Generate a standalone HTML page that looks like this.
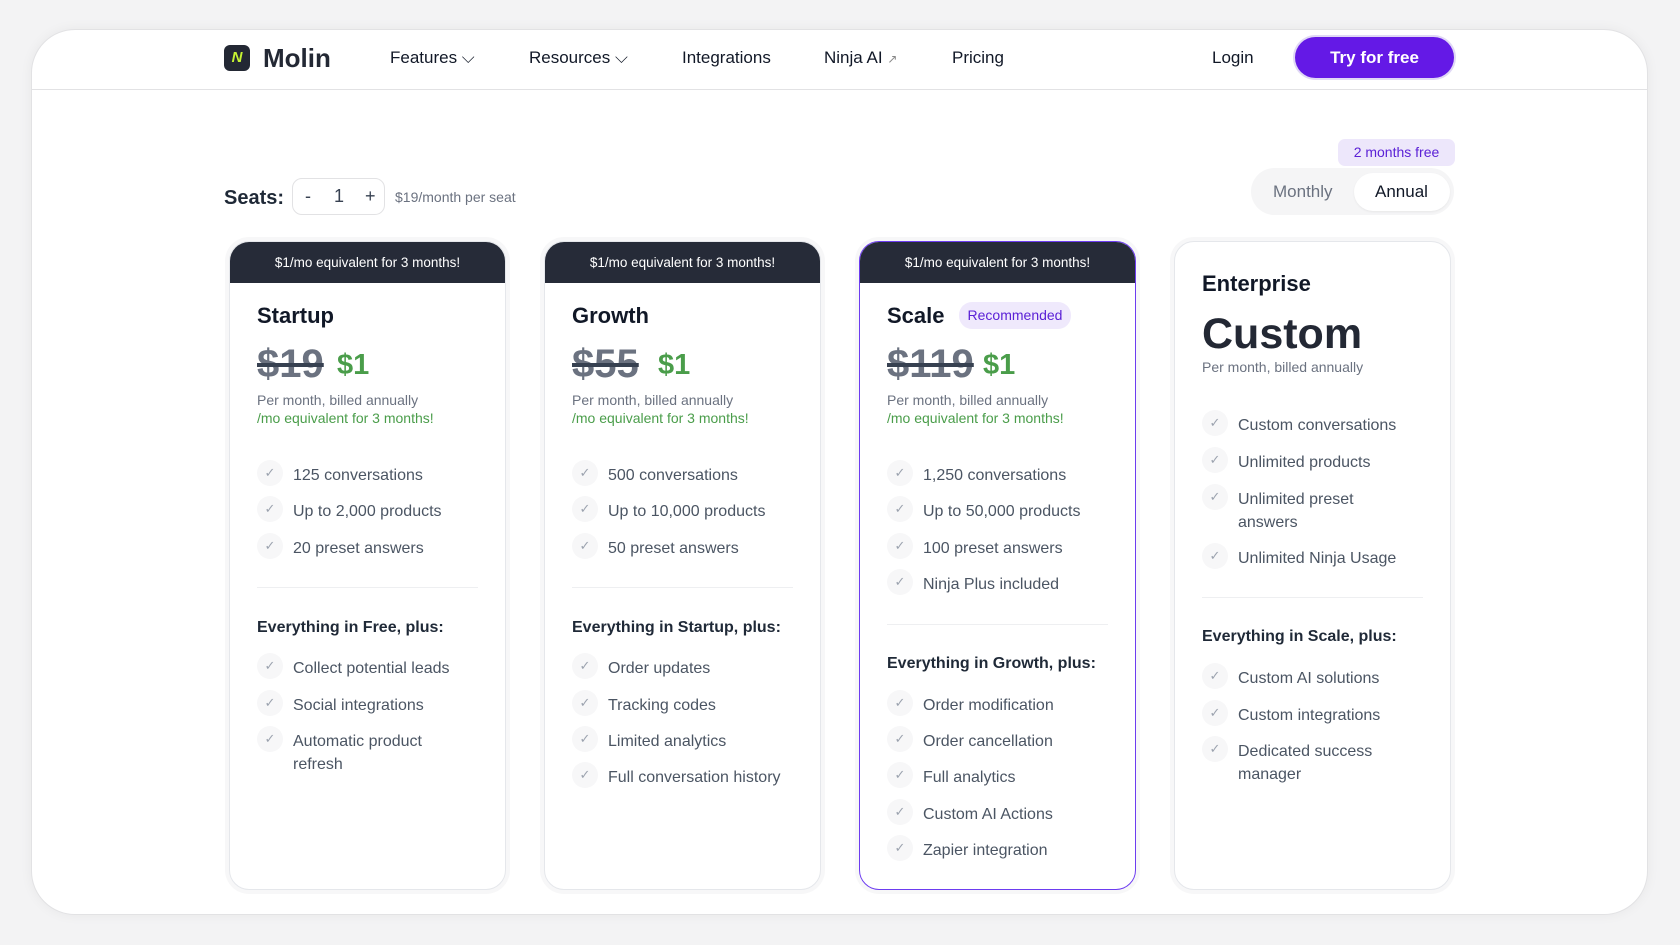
<!DOCTYPE html>
<html><head><meta charset="utf-8"><style>
*{margin:0;padding:0;box-sizing:border-box}
body{width:1680px;height:945px;background:#f3f3f4;font-family:"Liberation Sans",sans-serif;position:relative;overflow:hidden;color:#111827}
.a{position:absolute;white-space:nowrap}
.frame{position:absolute;left:31px;top:29px;width:1617px;height:886px;background:#fff;border:1px solid #e2e2e4;border-radius:44px;box-shadow:0 0 12px rgba(0,0,0,.05)}
.nav{font-size:17px;color:#111827;line-height:20px}
.card{position:absolute;top:241px;width:277px;height:649px;background:#fff;border:1.5px solid #e5e7eb;border-radius:20px;overflow:hidden;box-shadow:0 0 0 4px #f7f7f8}
.ban{position:absolute;left:0;top:0;right:0;height:41px;background:#262b38;color:#fff;font-size:13.5px;text-align:center;line-height:41px}
.t{position:absolute;left:27px;font-size:22px;font-weight:bold;line-height:26px}
.old{position:absolute;left:27px;top:342px;font-size:40px;font-weight:bold;color:#6b7280;text-decoration:line-through;text-decoration-color:#374151;line-height:44px}
.pr{position:absolute;font-size:14px;color:#6b7280;line-height:17px;left:27px}
.g{color:#4a9d4a}
.f{position:absolute;left:27px;font-size:16px;color:#4b5563;line-height:23px;padding-left:36px}
.f:before{content:"✓";position:absolute;left:0;top:-4px;width:26px;height:26px;border-radius:13px;background:#f7f7f8;color:#9ca3af;font-size:13px;text-align:center;line-height:26px}
.hr{position:absolute;left:27px;right:27px;height:1px;background:#eeeff1}
.ev{position:absolute;left:27px;font-size:16px;font-weight:bold;color:#1f2937;line-height:20px}
</style></head><body>
<div class="frame"></div>
<div class="a" style="left:31px;top:89px;width:1617px;height:1px;background:#e2e2e4"></div>
<div class="a" style="left:224px;top:45px;width:26px;height:26px;border-radius:6px;background:#232834;color:#c6f432;font-size:15px;font-weight:bold;text-align:center;line-height:26px;font-style:italic">N</div>
<div class="a" style="left:263px;top:43px;font-size:26px;font-weight:bold;color:#232834;line-height:30px">Molin</div>
<div class="a nav" style="left:390px;top:48px">Features ⌵</div>
<div class="a nav" style="left:529px;top:48px">Resources ⌵</div>
<div class="a nav" style="left:682px;top:48px">Integrations</div>
<div class="a nav" style="left:824px;top:48px">Ninja AI <span style="font-size:12px;color:#888">↗</span></div>
<div class="a nav" style="left:952px;top:48px">Pricing</div>
<div class="a nav" style="left:1212px;top:48px">Login</div>
<div class="a" style="left:1295px;top:37px;width:159px;height:41px;border-radius:21px;background:#6419e6;box-shadow:0 0 0 2px #e0d8f5;color:#fff;font-size:17px;font-weight:bold;text-align:center;line-height:41px">Try for free</div>

<div class="a" style="left:224px;top:186px;font-size:20px;font-weight:bold;color:#1f2937;line-height:24px">Seats:</div>
<div class="a" style="left:292px;top:178px;width:93px;height:37px;border:1.5px solid #e2e2e4;border-radius:10px;font-size:18px;line-height:34px;color:#374151"><span style="position:absolute;left:12px">-</span><span style="position:absolute;left:41px">1</span><span style="position:absolute;left:72px">+</span></div>
<div class="a" style="left:395px;top:189px;font-size:14px;color:#6b7280;line-height:16px">$19/month per seat</div>

<div class="a" style="left:1338px;top:139px;width:117px;height:27px;border-radius:7px;background:#ede7fb;color:#5b21d6;font-size:14px;text-align:center;line-height:27px">2 months free</div>
<div class="a" style="left:1251px;top:168px;width:203px;height:47px;border-radius:24px;background:#f5f5f6"></div>
<div class="a" style="left:1354px;top:173px;width:96px;height:38px;border-radius:19px;background:#fff;box-shadow:0 1px 2px rgba(0,0,0,.06)"></div>
<div class="a" style="left:1273px;top:182px;font-size:17px;color:#6b7280;line-height:20px">Monthly</div>
<div class="a" style="left:1375px;top:182px;font-size:17px;color:#111827;line-height:20px">Annual</div>

<!-- Startup -->
<div class="card" style="left:229px">
<div class="ban">$1/mo equivalent for 3 months!</div>
<div class="t" style="top:61px">Startup</div>
<div class="old" style="top:100px">$19</div><div class="a g" style="left:107px;top:106px;font-size:29px;font-weight:bold;line-height:34px">$1</div>
<div class="pr" style="top:150px">Per month, billed annually</div>
<div class="pr g" style="top:168px">/mo equivalent for 3 months!</div>
<div class="f" style="top:222px">125 conversations</div>
<div class="f" style="top:258px">Up to 2,000 products</div>
<div class="f" style="top:295px">20 preset answers</div>
<div class="hr" style="top:345px"></div>
<div class="ev" style="top:376px">Everything in Free, plus:</div>
<div class="f" style="top:415px">Collect potential leads</div>
<div class="f" style="top:452px">Social integrations</div>
<div class="f" style="top:488px">Automatic product<br>refresh</div>
</div>
<!-- Growth -->
<div class="card" style="left:544px">
<div class="ban">$1/mo equivalent for 3 months!</div>
<div class="t" style="top:61px">Growth</div>
<div class="old" style="top:100px">$55</div><div class="a g" style="left:113px;top:106px;font-size:29px;font-weight:bold;line-height:34px">$1</div>
<div class="pr" style="top:150px">Per month, billed annually</div>
<div class="pr g" style="top:168px">/mo equivalent for 3 months!</div>
<div class="f" style="top:222px">500 conversations</div>
<div class="f" style="top:258px">Up to 10,000 products</div>
<div class="f" style="top:295px">50 preset answers</div>
<div class="hr" style="top:345px"></div>
<div class="ev" style="top:376px">Everything in Startup, plus:</div>
<div class="f" style="top:415px">Order updates</div>
<div class="f" style="top:452px">Tracking codes</div>
<div class="f" style="top:488px">Limited analytics</div>
<div class="f" style="top:524px">Full conversation history</div>
</div>
<!-- Scale -->
<div class="card" style="left:859px;border-color:#6d3cf0">
<div class="ban">$1/mo equivalent for 3 months!</div>
<div class="t" style="top:61px">Scale</div>
<div class="a" style="left:99px;top:60px;width:112px;height:27px;border-radius:13px;background:#efe9fc;color:#5b21d6;font-size:14px;text-align:center;line-height:27px">Recommended</div>
<div class="old" style="top:100px">$119</div><div class="a g" style="left:123px;top:106px;font-size:29px;font-weight:bold;line-height:34px">$1</div>
<div class="pr" style="top:150px">Per month, billed annually</div>
<div class="pr g" style="top:168px">/mo equivalent for 3 months!</div>
<div class="f" style="top:222px">1,250 conversations</div>
<div class="f" style="top:258px">Up to 50,000 products</div>
<div class="f" style="top:295px">100 preset answers</div>
<div class="f" style="top:331px">Ninja Plus included</div>
<div class="hr" style="top:382px"></div>
<div class="ev" style="top:412px">Everything in Growth, plus:</div>
<div class="f" style="top:452px">Order modification</div>
<div class="f" style="top:488px">Order cancellation</div>
<div class="f" style="top:524px">Full analytics</div>
<div class="f" style="top:561px">Custom AI Actions</div>
<div class="f" style="top:597px">Zapier integration</div>
</div>
<!-- Enterprise -->
<div class="card" style="left:1174px">
<div class="t" style="top:29px">Enterprise</div>
<div class="a" style="left:27px;top:67px;font-size:43px;font-weight:bold;color:#232834;line-height:50px">Custom</div>
<div class="pr" style="top:117px">Per month, billed annually</div>
<div class="f" style="top:172px">Custom conversations</div>
<div class="f" style="top:209px">Unlimited products</div>
<div class="f" style="top:246px">Unlimited preset<br>answers</div>
<div class="f" style="top:305px">Unlimited Ninja Usage</div>
<div class="hr" style="top:355px"></div>
<div class="ev" style="top:385px">Everything in Scale, plus:</div>
<div class="f" style="top:425px">Custom AI solutions</div>
<div class="f" style="top:462px">Custom integrations</div>
<div class="f" style="top:498px">Dedicated success<br>manager</div>
</div>
</body></html>
